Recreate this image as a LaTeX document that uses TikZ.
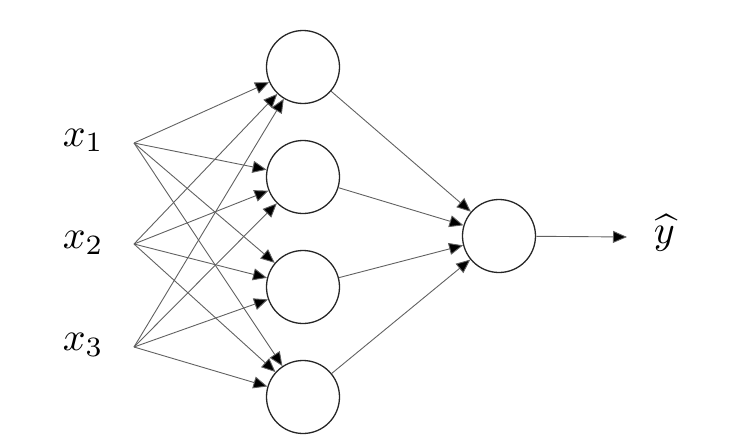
\documentclass[tikz,border=0pt]{standalone}
\usetikzlibrary{arrows.meta}
\begin{document}
\begin{tikzpicture}[x=1pt,y=-1pt,
  neuron/.style={circle,draw=black!85,line width=1.3pt,minimum size=73pt,inner sep=0pt},
  conn/.style={draw=black!62,line width=0.9pt,-{Triangle[length=14pt,width=12pt,fill=black]}},
  lbl/.style={inner sep=0pt,anchor=base west,scale=4}]
\useasboundingbox (0,0) rectangle (732,442);
\coordinate (in1) at (134,143);
\coordinate (in2) at (134,244);
\coordinate (in3) at (134,347);
\node[lbl] (l1) at (62,146) {$x_1$};
\node[lbl] (l2) at (62,248) {$x_2$};
\node[lbl] (l3) at (62,350) {$x_3$};
\node[neuron] (h1) at (303,67) {};
\node[neuron] (h2) at (303,177) {};
\node[neuron] (h3) at (303,287) {};
\node[neuron] (h4) at (303,397) {};
\node[neuron] (o) at (499,236) {};
\coordinate (yend) at (627,237);
\node[lbl] (yhat) at (653,243) {$\widehat{y}$};
\foreach \i in {1,2,3}{
  \foreach \h in {1,2,3,4}{
    \draw[conn] (in\i) -- (h\h);
  }
}
\foreach \h in {1,2,3,4}{
  \draw[conn] (h\h) -- (o);
}
\draw[conn] (o) -- (yend);
\end{tikzpicture}
\end{document}
